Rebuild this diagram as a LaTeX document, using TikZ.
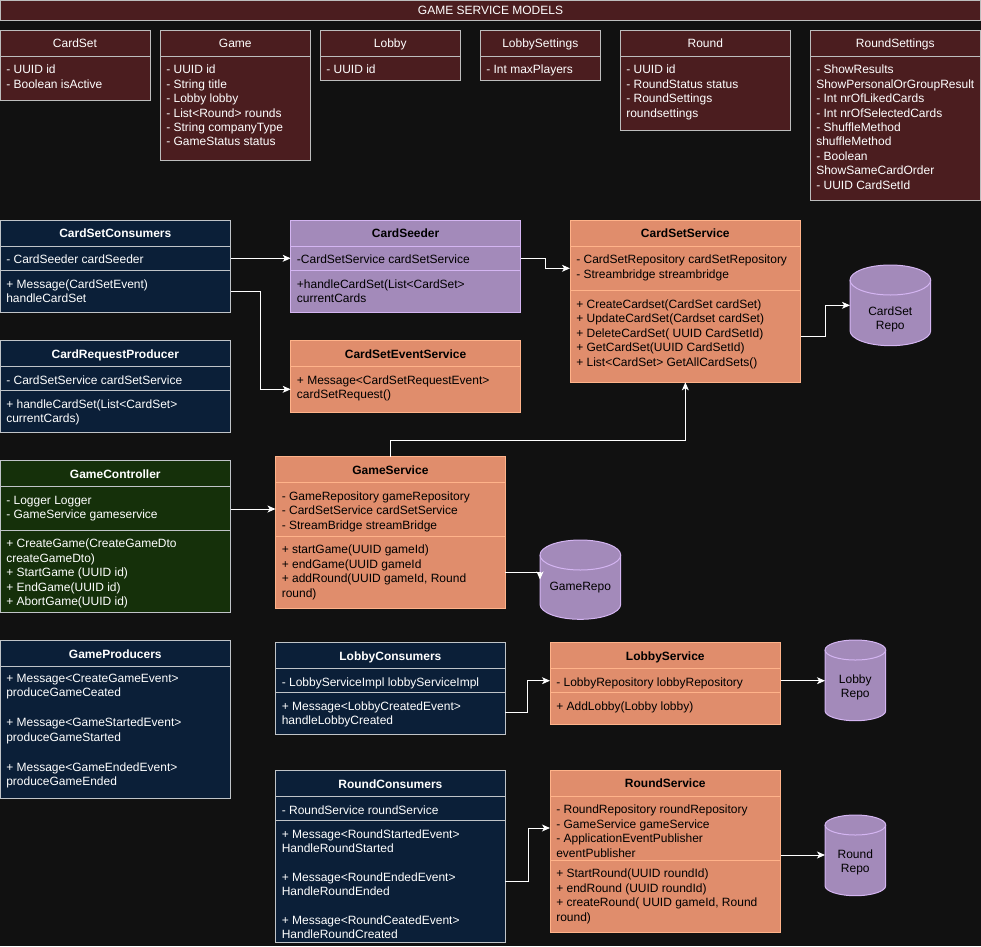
\documentclass[tikz,border=0pt]{standalone}
\usepackage{fontspec}
\setmainfont{Liberation Sans}
\usetikzlibrary{arrows.meta}

\definecolor{bgc}{HTML}{111111}
\definecolor{modfill}{HTML}{4B1D1F}
\definecolor{modline}{HTML}{BDBDBD}
\definecolor{navyfill}{HTML}{0B1F38}
\definecolor{navyline}{HTML}{C0C4C8}
\definecolor{greenfill}{HTML}{15300A}
\definecolor{greenline}{HTML}{C0C4C8}
\definecolor{orangefill}{HTML}{E08D6C}
\definecolor{orangeline}{HTML}{FFB38A}
\definecolor{purplefill}{HTML}{A38ABA}
\definecolor{purpleline}{HTML}{D4B5F2}

\newcommand\dgfont{\fontsize{9}{10.8}\selectfont}

\tikzset{
  boxbase/.style={anchor=north west, inner sep=0pt, outer sep=0pt, line width=0.75pt},
  modbox/.style={boxbase, draw=modline, fill=modfill},
  navybox/.style={boxbase, draw=navyline, fill=navyfill},
  greenbox/.style={boxbase, draw=greenline, fill=greenfill},
  orangebox/.style={boxbase, draw=orangeline, fill=orangefill},
  purplebox/.style={boxbase, draw=purpleline, fill=purplefill},
  hiddenbox/.style={boxbase, draw=none, fill=none},
  repostyle/.style={fill=purplefill, draw=purpleline, line width=0.75pt},
  txt/.style={anchor=base west, inner sep=0pt, font=\dgfont, text=white},
  dtxt/.style={txt, text=black},
  hdr/.style={anchor=base, inner sep=0pt, font=\dgfont\bfseries, text=white},
  dhdr/.style={hdr, text=black},
  mhdr/.style={anchor=base, inner sep=0pt, font=\dgfont, text=white},
  rlabel/.style={anchor=base, inner sep=0pt, font=\dgfont, text=black},
  conn/.style={draw=white, line width=0.75pt, -{Stealth[length=6pt,width=5.2pt,inset=1.6pt]}},
}

% class box: name, x, y, width, height, style (pixel units)
\newcommand\cls[6]{\node[#6, minimum width=#4*0.75pt, minimum height=#5*0.75pt] (#1) at (#2,#3) {};}
% section divider: x, width, y, colour
\newcommand\divl[4]{\draw[line width=0.75pt, #4] (#1,#3) -- ++(#2,0);}
% text lines: [style], prefix, x, first baseline, {lines}
\newcommand\tlines[5][txt]{%
  \foreach \ln [count=\tli] in {#5}{\node[#1] (#2\tli) at (#3,{#4+(\tli-1)*14.4}) {\ln};}}
% database cylinder: name, x, y, width, height, cap radius
\newcommand\repo[6]{%
  \node[hiddenbox, minimum width=#4*0.75pt, minimum height=#5*0.75pt] (#1) at (#2,#3) {};
  \filldraw[repostyle] (#2,#3+#6) -- (#2,#3+#5-#6)
    arc[start angle=180,end angle=360,x radius=#4*0.375pt,y radius=#6*0.75pt]
    -- (#2+#4,#3+#6)
    arc[start angle=0,end angle=180,x radius=#4*0.375pt,y radius=#6*0.75pt] -- cycle;
  \draw[purpleline, line width=0.75pt] (#2,#3+#6)
    arc[start angle=180,end angle=360,x radius=#4*0.375pt,y radius=#6*0.75pt];}

\begin{document}
\begin{tikzpicture}[x=0.75pt,y=-0.75pt]
\useasboundingbox (0,0) rectangle (981,946);
\fill[bgc] (0,0) rectangle (981,946);

% ---------- models ----------
\cls{title}{0.5}{0.5}{980}{20}{modbox}
\node[mhdr] (titletxt) at (490.5,14.2) {GAME SERVICE MODELS};

\cls{mcardset}{0.5}{30}{150}{70}{modbox}
\divl{0.5}{150}{56.3}{modline}
\node[mhdr] (mcardseth) at (75,47.2) {CardSet};
\tlines{mcardsetl}{6}{73.8}{{- UUID id},{- Boolean isActive}}

\cls{mgame}{160}{30}{150.7}{130.7}{modbox}
\divl{160}{150.7}{56.3}{modline}
\node[mhdr] (mgameh) at (235.3,47.2) {Game};
\tlines{mgamel}{166}{73.8}{{- UUID id},{- String title},{- Lobby lobby},{- List<Round> rounds},{- String companyType},{- GameStatus status}}

\cls{mlobby}{320}{30}{140.7}{50.7}{modbox}
\divl{320}{140.7}{56.3}{modline}
\node[mhdr] (mlobbyh) at (390.3,47.2) {Lobby};
\tlines{mlobbyl}{326}{73.8}{{- UUID id}}

\cls{mlset}{480}{30}{120.7}{50.7}{modbox}
\divl{480}{120.7}{56.3}{modline}
\node[mhdr] (mlseth) at (540.3,47.2) {LobbySettings};
\tlines{mlsetl}{486}{73.8}{{- Int maxPlayers}}

\cls{mround}{620}{30}{170.7}{100.7}{modbox}
\divl{620}{170.7}{56.3}{modline}
\node[mhdr] (mroundh) at (705.3,47.2) {Round};
\tlines{mroundl}{626}{73.8}{{- UUID id},{- RoundStatus status},{- RoundSettings},{roundsettings}}

\cls{mrset}{810}{30}{170.5}{170}{modbox}
\divl{810}{170.5}{56.3}{modline}
\node[mhdr] (mrseth) at (895.3,47.2) {RoundSettings};
\tlines{mrsetl}{816}{73.8}{{- ShowResults},{ShowPersonalOrGroupResult},{- Int nrOfLikedCards},{- Int nrOfSelectedCards},{- ShuffleMethod},{shuffleMethod},{- Boolean},{ShowSameCardOrder},{- UUID CardSetId}}

% ---------- card set classes ----------
\cls{csc}{0.5}{220}{230}{92.3}{navybox}
\divl{0.5}{230}{246.7}{navyline}
\divl{0.5}{230}{270.7}{navyline}
\node[hdr] (csch) at (115.3,237.8) {CardSetConsumers};
\tlines{csca}{6}{263.8}{{- CardSeeder cardSeeder}}
\tlines{cscm}{6}{288.5}{{+ Message(CardSetEvent)},{handleCardSet}}

\cls{seeder}{290.7}{220}{229.8}{92.3}{purplebox}
\divl{290.7}{229.8}{246.7}{purpleline}
\divl{290.7}{229.8}{270.7}{purpleline}
\node[dhdr] (seederh) at (405.6,237.8) {CardSeeder};
\tlines[dtxt]{seedera}{296.7}{263.8}{{-CardSetService cardSetService}}
\tlines[dtxt]{seederm}{296.7}{288.5}{{+handleCardSet(List<CardSet>},{currentCards}}

\cls{crp}{0.5}{340.3}{230}{92}{navybox}
\divl{0.5}{230}{366.7}{navyline}
\divl{0.5}{230}{390.7}{navyline}
\node[hdr] (crph) at (115.3,358) {CardRequestProducer};
\tlines{crpa}{6}{384}{{- CardSetService cardSetService}}
\tlines{crpm}{6}{408.5}{{+ handleCardSet(List<CardSet>},{currentCards)}}

\cls{cses}{290.7}{340.3}{229.8}{72}{orangebox}
\divl{290.7}{229.8}{366.7}{orangeline}
\node[dhdr] (csesh) at (405.6,358) {CardSetEventService};
\tlines[dtxt]{csesm}{296.7}{384}{{+ Message<CardSetRequestEvent>},{cardSetRequest()}}

\cls{css}{570}{220}{230.7}{162.3}{orangebox}
\divl{570}{230.7}{246.7}{orangeline}
\divl{570}{230.7}{290.3}{orangeline}
\node[dhdr] (cssh) at (685.3,237.8) {CardSetService};
\tlines[dtxt]{cssa}{576}{263.8}{{- CardSetRepository cardSetRepository},{- Streambridge streambridge}}
\tlines[dtxt]{cssm}{576}{308.5}{{+ CreateCardset(CardSet cardSet)},{+ UpdateCardSet(Cardset cardSet)},{+ DeleteCardSet( UUID CardSetId)},{+ GetCardSet(UUID CardSetId)},{+ List<CardSet> GetAllCardSets()}}

\repo{csrepo}{850}{265}{80.7}{80.7}{15}
\node[rlabel] (csrepot1) at (890.3,315.3) {CardSet};
\node[rlabel] (csrepot2) at (890.3,329.5) {Repo};

% ---------- game classes ----------
\cls{gc}{0.5}{460.7}{230}{151.6}{greenbox}
\divl{0.5}{230}{486.3}{greenline}
\divl{0.5}{230}{530.3}{greenline}
\node[hdr] (gch) at (115.3,478.5) {GameController};
\tlines{gca}{6}{504.5}{{- Logger Logger},{- GameService gameservice}}
\tlines{gcm}{6}{547.8}{{+ CreateGame(CreateGameDto},{createGameDto)},{+ StartGame (UUID id)},{+ EndGame(UUID id)},{+ AbortGame(UUID id)}}

\cls{gs}{275.5}{456.7}{229.8}{151.6}{orangebox}
\divl{275.5}{229.8}{482.7}{orangeline}
\divl{275.5}{229.8}{536.7}{orangeline}
\node[dhdr] (gsh) at (390.4,474.2) {GameService};
\tlines[dtxt]{gsa}{281.5}{500.2}{{- GameRepository gameRepository},{- CardSetService cardSetService},{- StreamBridge streamBridge}}
\tlines[dtxt]{gsm}{281.5}{553.8}{{+ startGame(UUID gameId)},{+ endGame(UUID gameId},{+ addRound(UUID gameId, Round},{round)}}

\repo{grepo}{540}{540}{80.7}{79.3}{15}
\node[rlabel] (grepot) at (580.3,590.5) {GameRepo};

\cls{gp}{0.5}{640}{230}{158.3}{navybox}
\divl{0.5}{230}{666.7}{navyline}
\node[hdr] (gph) at (115.3,658.5) {GameProducers};
\tlines{gpa}{6}{682.2}{{+ Message<CreateGameEvent>},{produceGameCeated}}
\tlines{gpb}{6}{726.8}{{+ Message<GameStartedEvent>},{produceGameStarted}}
\tlines{gpc}{6}{771.4}{{+ Message<GameEndedEvent>},{produceGameEnded}}

% ---------- lobby classes ----------
\cls{lc}{275.5}{642.3}{229.8}{92}{navybox}
\divl{275.5}{229.8}{668.3}{navyline}
\divl{275.5}{229.8}{692.3}{navyline}
\node[hdr] (lch) at (390.4,660.2) {LobbyConsumers};
\tlines{lca}{281.5}{686.2}{{- LobbyServiceImpl lobbyServiceImpl}}
\tlines{lcm}{281.5}{710.5}{{+ Message<LobbyCreatedEvent>},{handleLobbyCreated}}

\cls{ls}{550}{642.3}{230.7}{82}{orangebox}
\divl{550}{230.7}{668.3}{orangeline}
\divl{550}{230.7}{692.3}{orangeline}
\node[dhdr] (lsh) at (665.3,660.2) {LobbyService};
\tlines[dtxt]{lsa}{556}{686.2}{{- LobbyRepository lobbyRepository}}
\tlines[dtxt]{lsm}{556}{710.2}{{+ AddLobby(Lobby lobby)}}

\repo{lrepo}{825}{640}{60.7}{80.7}{10}
\node[rlabel] (lrepot1) at (855.3,683.5) {Lobby};
\node[rlabel] (lrepot2) at (855.3,697.5) {Repo};

% ---------- round classes ----------
\cls{rc}{275.5}{770.7}{229.8}{171.6}{navybox}
\divl{275.5}{229.8}{796}{navyline}
\divl{275.5}{229.8}{820.3}{navyline}
\node[hdr] (rch) at (390.4,788.5) {RoundConsumers};
\tlines{rca}{281.5}{814.5}{{- RoundService roundService}}
\tlines{rcb}{281.5}{838.5}{{+ Message<RoundStartedEvent>},{HandleRoundStarted}}
\tlines{rcc}{281.5}{881.5}{{+ Message<RoundEndedEvent>},{HandleRoundEnded}}
\tlines{rcd}{281.5}{924.5}{{+ Message<RoundCeatedEvent>},{HandleRoundCreated}}

\cls{rs}{550}{770}{230.7}{162.3}{orangebox}
\divl{550}{230.7}{796.7}{orangeline}
\divl{550}{230.7}{860.7}{orangeline}
\node[dhdr] (rsh) at (665.3,787.8) {RoundService};
\tlines[dtxt]{rsa}{556}{813.8}{{- RoundRepository roundRepository},{- GameService gameService},{- ApplicationEventPublisher},{eventPublisher}}
\tlines[dtxt]{rsm}{556}{877.8}{{+ StartRound(UUID roundId)},{+ endRound (UUID roundId)},{+ createRound( UUID gameId, Round},{round)}}

\repo{rrepo}{825}{815}{60.7}{80.7}{10}
\node[rlabel] (rrepot1) at (855.3,858.2) {Round};
\node[rlabel] (rrepot2) at (855.3,872.2) {Repo};

% ---------- connectors ----------
\coordinate (yA) at (0,258.3);
\draw[conn] (csc.east |- yA) -- (seeder.west |- yA);

\coordinate (bB1) at (260.3,291.7);
\coordinate (bB2) at (260.3,389.3);
\draw[conn] (csc.east |- bB1) -- (bB1) -- (bB2) -- (cses.west |- bB2);

\coordinate (bC1) at (545,258.3);
\coordinate (bC2) at (545,268.3);
\draw[conn] (seeder.east |- bC1) -- (bC1) -- (bC2) -- (css.west |- bC2);

\coordinate (bD1) at (825.7,336);
\coordinate (bD2) at (825.7,305.3);
\draw[conn] (css.east |- bD1) -- (bD1) -- (bD2) -- (csrepo.west |- bD2);

\coordinate (bE) at (0,440.7);
\draw[conn] (gs.north) -- (gs.north |- bE) -| (css.south);

\coordinate (yF) at (0,509);
\draw[conn] (gc.east |- yF) -- (gs.west |- yF);

\coordinate (bG1) at (0,572.5);
\coordinate (bG2) at (0,579.5);
\draw[conn] (gs.east |- bG1) -| (grepo.west |- bG2);

\coordinate (bH1) at (527.8,712.7);
\coordinate (bH2) at (527.8,680.7);
\draw[conn] (lc.east |- bH1) -- (bH1) -- (bH2) -- (ls.west |- bH2);

\coordinate (yI) at (0,680.7);
\draw[conn] (ls.east |- yI) -- (lrepo.west |- yI);

\coordinate (bJ1) at (528,881.3);
\coordinate (bJ2) at (528,828);
\draw[conn] (rc.east |- bJ1) -- (bJ1) -- (bJ2) -- (rs.west |- bJ2);

\coordinate (yK) at (0,855);
\draw[conn] (rs.east |- yK) -- (rrepo.west |- yK);
\end{tikzpicture}
\end{document}
